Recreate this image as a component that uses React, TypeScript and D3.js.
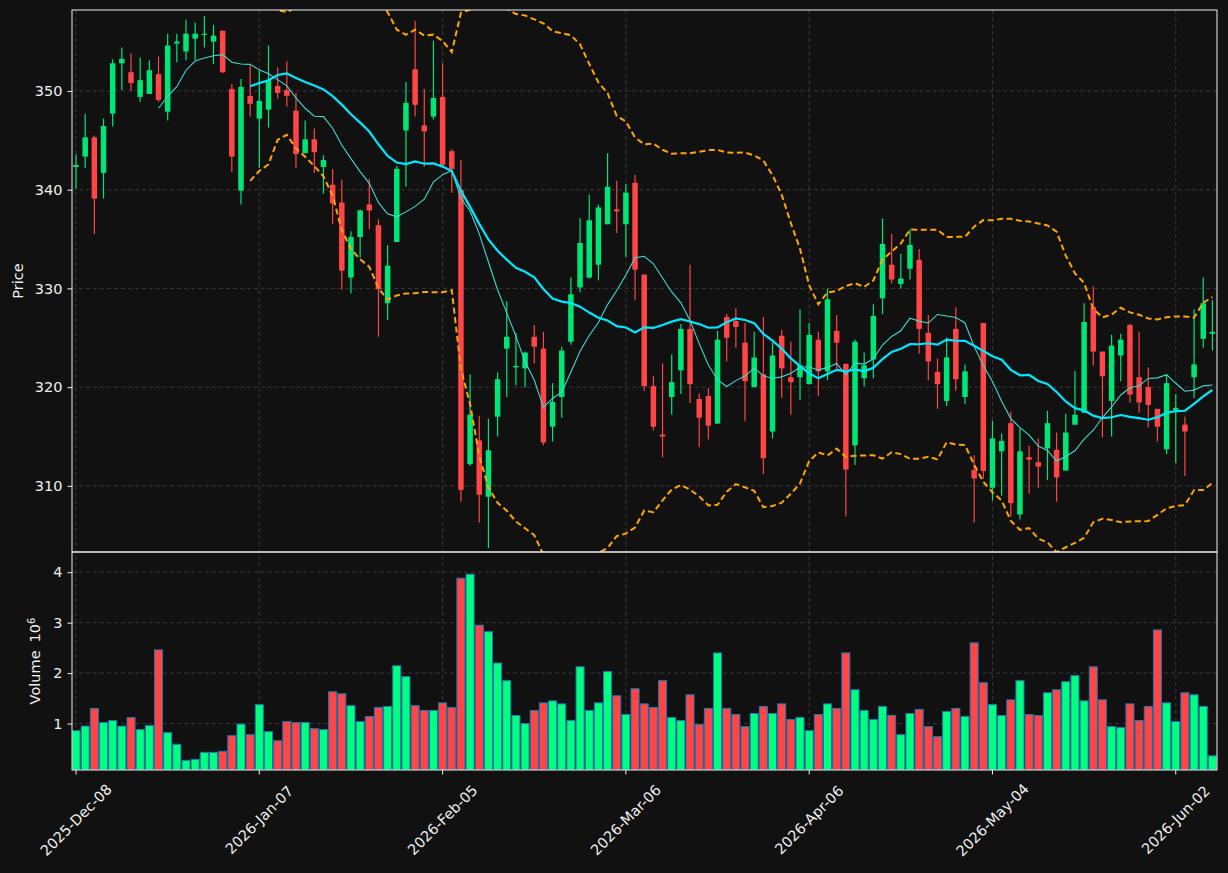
import { useRef, useEffect } from 'react';
import * as d3 from 'd3';

// daily OHLC (index = trading day)
const opens = [
  342.3, 343.35, 345.3, 341.7, 347.7, 352.8, 351.9, 349.4, 349.7, 351.7,
  347.9, 354.8, 354.0, 355.3, 355.7, 355.0, 356.1, 350.2, 339.9, 349.5,
  347.2, 348.1, 350.5, 350.1, 348.0, 343.7, 345.1, 342.3, 340.5, 338.7,
  331.1, 335.2, 338.5, 336.4, 328.5, 334.7, 346.0, 352.2, 346.5, 347.4,
  349.4, 343.9, 340.0, 312.2, 314.6, 308.9, 317.0, 323.9, 322.0, 321.9,
  325.1, 323.9, 316.0, 319.0, 324.6, 330.1, 331.1, 332.4, 336.5, 338.0,
  336.5, 340.7, 331.4, 320.1, 315.2, 319.0, 321.7, 325.9, 318.8, 319.1,
  316.3, 327.1, 326.7, 324.5, 320.0, 321.3, 315.5, 325.2, 321.0, 321.0,
  320.3, 324.8, 321.6, 325.7, 322.35, 314.1, 320.9, 322.8, 329.0, 332.4,
  330.45, 332.0, 332.9, 325.5, 321.55, 318.6, 325.9, 319.0, 311.6, 326.5,
  309.8, 313.5, 316.35, 307.1, 312.9, 312.4, 313.8, 313.65, 311.55, 316.2,
  317.4, 328.1, 323.6, 318.6, 323.2, 326.3, 321.0, 320.0, 317.8, 313.7,
  317.7, 316.2, 321.0, 324.9, 325.4,
];
const highs = [
  343.6, 347.7, 345.5, 347.2, 353.2, 354.4, 353.8, 353.4, 353.1, 353.5,
  355.8, 355.8, 357.2, 356.9, 357.6, 356.7, 356.1, 350.7, 351.2, 352.6,
  352.1, 354.6, 352.4, 353.0, 349.8, 347.0, 346.2, 343.5, 342.1, 341.0,
  335.8, 338.0, 341.1, 337.0, 334.4, 342.4, 350.9, 357.1, 350.2, 355.1,
  352.8, 344.1, 343.0, 321.3, 317.1, 316.8, 321.5, 328.7, 325.5, 323.6,
  326.3, 325.6, 320.4, 324.1, 331.1, 337.1, 339.5, 338.5, 343.7, 340.9,
  340.6, 341.5, 331.4, 321.1, 322.4, 323.3, 326.4, 332.4, 319.35, 319.9,
  325.7, 327.4, 328.0, 326.5, 325.6, 327.1, 324.5, 325.8, 324.6, 327.9,
  326.5, 325.6, 330.0, 327.3, 322.4, 324.8, 323.5, 328.4, 337.1, 335.5,
  333.5, 336.0, 334.0, 327.3, 322.9, 325.0, 328.1, 322.3, 313.1, 326.5,
  316.6, 315.3, 317.5, 315.8, 314.05, 314.8, 317.6, 315.4, 317.3, 321.6,
  328.5, 330.2, 323.6, 325.3, 325.4, 326.4, 325.6, 322.0, 317.8, 321.3,
  319.3, 317.0, 327.9, 331.1, 328.8,
];
const lows = [
  340.1, 342.2, 335.5, 339.1, 346.4, 350.1, 350.0, 348.9, 349.7, 348.9,
  347.0, 352.9, 353.1, 353.1, 354.4, 352.7, 351.8, 341.8, 338.5, 347.4,
  342.2, 346.3, 349.2, 348.4, 342.2, 343.7, 341.7, 339.6, 336.5, 329.9,
  329.5, 333.1, 336.0, 325.1, 326.8, 334.7, 340.3, 347.4, 342.3, 347.1,
  342.3, 339.7, 308.4, 312.0, 306.3, 303.7, 315.0, 319.0, 320.2, 320.0,
  322.4, 314.1, 314.5, 316.9, 324.3, 329.6, 331.0, 330.8, 336.5, 335.6,
  333.2, 328.8, 319.6, 315.6, 312.9, 317.2, 319.3, 318.4, 313.9, 314.7,
  316.3, 322.6, 324.0, 316.55, 320.0, 311.2, 314.8, 318.9, 317.2, 318.7,
  320.3, 319.1, 320.7, 321.6, 306.9, 312.1, 320.1, 320.9, 327.4, 330.5,
  330.0, 330.9, 323.4, 320.7, 317.8, 318.1, 319.6, 318.3, 306.3, 310.7,
  308.5, 309.0, 306.9, 306.6, 309.2, 309.8, 310.6, 308.4, 311.55, 316.2,
  317.4, 322.2, 314.9, 315.0, 320.6, 318.45, 317.4, 315.9, 314.5, 313.2,
  312.3, 311.0, 318.9, 324.0, 323.7,
];
const closes = [
  342.5, 345.3, 339.1, 346.45, 352.8, 353.25, 350.8, 351.1, 352.1, 349.1,
  354.6, 355.0, 355.8, 355.8, 355.8, 355.6, 351.9, 343.35, 350.4, 348.7,
  349.0, 351.1, 349.8, 349.5, 343.6, 345.1, 343.8, 343.0, 338.6, 331.8,
  335.2, 337.9, 337.9, 329.9, 332.3, 342.1, 348.8, 348.6, 345.9, 349.3,
  342.5, 342.1, 309.6, 317.2, 309.1, 313.6, 320.8, 325.1, 322.15, 323.5,
  324.1, 314.4, 318.5, 323.7, 329.4, 334.6, 336.9, 338.2, 340.3, 337.8,
  339.7, 331.9, 320.1, 316.0, 315.0, 320.5, 325.9, 320.3, 316.9, 316.1,
  324.8, 325.0, 326.1, 320.6, 323.0, 312.8, 323.2, 321.9, 320.5, 322.2,
  325.3, 321.6, 328.9, 324.5, 311.65, 324.6, 322.2, 327.2, 334.5, 330.9,
  331.0, 334.4, 325.9, 322.6, 320.3, 323.0, 320.8, 321.6, 310.75, 311.5,
  314.8, 314.55, 308.25, 313.5, 312.65, 311.95, 316.35, 310.85, 315.4, 317.2,
  326.6, 323.6, 321.1, 324.2, 324.8, 319.25, 318.45, 318.2, 316.0, 320.4,
  317.9, 315.5, 322.3, 328.5, 325.6,
];
// volume in millions
const volumes = [
  0.86, 0.95, 1.30, 1.02, 1.06, 0.95, 1.12, 0.88, 0.96, 2.46,
  0.82, 0.59, 0.27, 0.29, 0.43, 0.43, 0.45, 0.76, 0.99, 0.78,
  1.375, 0.84, 0.66, 1.04, 1.02, 1.02, 0.90, 0.88, 1.63, 1.59,
  1.355, 1.04, 1.14, 1.32, 1.34, 2.145, 1.93, 1.355, 1.26, 1.26,
  1.41, 1.32, 3.88, 3.96, 2.95, 2.82, 2.20, 1.85, 1.16, 1.0,
  1.26, 1.41, 1.45, 1.39, 1.06, 2.125, 1.26, 1.41, 2.03, 1.55,
  1.18, 1.69, 1.39, 1.32, 1.85, 1.12, 1.06, 1.57, 0.98, 1.30,
  2.40, 1.30, 1.18, 0.94, 1.20, 1.34, 1.20, 1.39, 1.08, 1.12,
  0.86, 1.18, 1.39, 1.30, 2.40, 1.67, 1.26, 1.08, 1.34, 1.16,
  0.78, 1.20, 1.28, 0.94, 0.74, 1.24, 1.30, 1.14, 2.60, 1.81,
  1.375, 1.16, 1.47, 1.85, 1.18, 1.16, 1.61, 1.67, 1.83, 1.95,
  1.45, 2.125, 1.47, 0.94, 0.92, 1.39, 1.06, 1.34, 2.855, 1.41,
  1.04, 1.61, 1.57, 1.34, 0.36,
];
const tickIdx = [0, 20, 40, 60, 80, 100, 120];
const tickLabels = ['2025-Dec-08', '2026-Jan-07', '2026-Feb-05', '2026-Mar-06', '2026-Apr-06', '2026-May-04', '2026-Jun-02'];
const priceTicks = [310, 320, 330, 340, 350];
const volTicks = [1, 2, 3, 4];

const WIDTH = 1228;
const HEIGHT = 873;
const LEFT = 72;
const RIGHT = 1217;
const TOP = 10;
const MID = 552;
const BOTTOM = 770;

const UP = '#00e676';
const DOWN = '#ff4545';
const VOL_UP = '#00ff7f';
const TEXT = '#f0f0f0';
const GRID = '#3a3a3a';
const FS = '14.5px';

function sma(v: number[], n: number) {
  return v.map((_, i) => (i < n - 1 ? null : d3.mean(v.slice(i - n + 1, i + 1))!));
}

function bollinger(v: number[], n: number, k: number) {
  return v.map((_, i) => {
    if (i < n - 1) return null;
    const w = v.slice(i - n + 1, i + 1);
    const m = d3.mean(w)!;
    const sd = Math.sqrt(d3.mean(w, (d) => (d - m) ** 2)!);
    return { up: m + k * sd, lo: m - k * sd };
  });
}

export default function App() {
  const svgRef = useRef<SVGSVGElement>(null);

  useEffect(() => {
    if (!svgRef.current) return;
    const svg = d3.select(svgRef.current);
    svg.selectAll('*').remove();

    const n = closes.length;
    const x = d3.scaleLinear().domain([-0.44, n - 0.5]).range([LEFT, RIGHT]);
    const y = d3.scaleLinear().domain([303.3, 358.2]).range([MID, TOP]);
    const yv = d3.scaleLinear().domain([0.08, 4.4]).range([BOTTOM, MID]);
    const step = x(1) - x(0);
    const idx = d3.range(n);
    const isUp = (i: number) => closes[i] >= opens[i];

    svg.append('rect').attr('width', WIDTH).attr('height', HEIGHT).attr('fill', '#111111');

    const defs = svg.append('defs');
    defs.append('clipPath').attr('id', 'pclip')
      .append('rect').attr('x', LEFT).attr('y', TOP).attr('width', RIGHT - LEFT).attr('height', MID - TOP);
    defs.append('clipPath').attr('id', 'vclip')
      .append('rect').attr('x', LEFT).attr('y', MID).attr('width', RIGHT - LEFT).attr('height', BOTTOM - MID);

    // Grid
    const grid = svg.append('g').attr('stroke', GRID).attr('stroke-width', 0.9).attr('stroke-dasharray', '4,3');
    grid.selectAll('line.vx').data(tickIdx).join('line')
      .attr('x1', (d) => x(d)).attr('x2', (d) => x(d)).attr('y1', TOP).attr('y2', BOTTOM);
    grid.selectAll('line.py').data(priceTicks).join('line')
      .attr('x1', LEFT).attr('x2', RIGHT).attr('y1', (d) => y(d)).attr('y2', (d) => y(d));
    grid.selectAll('line.vy').data(volTicks).join('line')
      .attr('x1', LEFT).attr('x2', RIGHT).attr('y1', (d) => yv(d)).attr('y2', (d) => yv(d));

    // Candles
    const pg = svg.append('g').attr('clip-path', 'url(#pclip)');
    pg.selectAll('line.wick').data(idx).join('line')
      .attr('x1', (i) => x(i)).attr('x2', (i) => x(i))
      .attr('y1', (i) => y(highs[i])).attr('y2', (i) => y(lows[i]))
      .attr('stroke', (i) => (isUp(i) ? UP : DOWN)).attr('stroke-width', 1.2);
    const bw = step * 0.6;
    pg.selectAll('rect.body').data(idx).join('rect')
      .attr('x', (i) => x(i) - bw / 2).attr('width', bw)
      .attr('y', (i) => y(Math.max(opens[i], closes[i])))
      .attr('height', (i) => Math.max(1.2, Math.abs(y(opens[i]) - y(closes[i]))))
      .attr('fill', (i) => (isUp(i) ? UP : DOWN));

    // Moving averages and Bollinger bands
    const ma10 = sma(closes, 10);
    const ma20 = sma(closes, 20);
    const bb = bollinger(closes, 20, 2);
    const line = d3.line<number | null>()
      .defined((d) => d !== null)
      .x((_, i) => x(i)).y((d) => y(d as number));
    pg.append('path').datum(ma10).attr('fill', 'none').attr('stroke', '#40d8d0')
      .attr('stroke-width', 1.1).attr('d', line);
    pg.append('path').datum(ma20).attr('fill', 'none').attr('stroke', '#00e8ff')
      .attr('stroke-width', 2.2).attr('d', line);
    for (const key of ['up', 'lo'] as const) {
      pg.append('path').datum(bb.map((b) => (b ? b[key] : null)))
        .attr('fill', 'none').attr('stroke', '#ffa500')
        .attr('stroke-width', 2).attr('stroke-dasharray', '6,3.5').attr('d', line);
    }

    // Volume
    const vw = step * 0.88;
    svg.append('g').attr('clip-path', 'url(#vclip)')
      .selectAll('rect').data(idx).join('rect')
      .attr('x', (i) => x(i) - vw / 2).attr('width', vw)
      .attr('y', (i) => yv(volumes[i])).attr('height', (i) => BOTTOM - yv(volumes[i]))
      .attr('fill', (i) => (isUp(i) ? VOL_UP : DOWN))
      .attr('stroke', '#1f77b4').attr('stroke-width', 1);

    // Frames
    const frame = svg.append('g').attr('fill', 'none').attr('stroke', '#f0f0f0').attr('stroke-width', 1);
    frame.append('rect').attr('x', LEFT).attr('y', TOP).attr('width', RIGHT - LEFT).attr('height', MID - TOP);
    frame.append('rect').attr('x', LEFT).attr('y', MID).attr('width', RIGHT - LEFT).attr('height', BOTTOM - MID);

    const font = 'DejaVu Sans, sans-serif';
    // Y axes
    const yAx = svg.append('g').attr('transform', `translate(${LEFT},0)`);
    yAx.call(d3.axisLeft(y).tickValues(priceTicks).tickSize(4.5).tickPadding(5).tickFormat(d3.format('d')));
    const vAx = svg.append('g').attr('transform', `translate(${LEFT},0)`);
    vAx.call(d3.axisLeft(yv).tickValues(volTicks).tickSize(4.5).tickPadding(5).tickFormat(d3.format('d')));
    for (const ax of [yAx, vAx]) {
      ax.select('.domain').remove();
      ax.selectAll('line').attr('stroke', TEXT);
      ax.selectAll('text').attr('fill', TEXT).attr('font-size', FS).attr('font-family', font);
    }

    // X axis (bottom of volume panel)
    const xAx = svg.append('g');
    xAx.selectAll('line').data(tickIdx).join('line')
      .attr('x1', (d) => x(d)).attr('x2', (d) => x(d)).attr('y1', BOTTOM).attr('y2', BOTTOM + 4.5)
      .attr('stroke', TEXT);
    xAx.selectAll('text').data(tickIdx).join('text')
      .attr('transform', (d) => `translate(${x(d)},${BOTTOM + 50}) rotate(-45)`)
      .attr('text-anchor', 'middle').attr('dominant-baseline', 'central')
      .attr('fill', TEXT).attr('font-size', FS).attr('font-family', font)
      .text((_, i) => tickLabels[i]);

    // Axis titles
    svg.append('text')
      .attr('transform', `translate(23,${(TOP + MID) / 2}) rotate(-90)`)
      .attr('text-anchor', 'middle').attr('fill', TEXT).attr('font-size', FS).attr('font-family', font)
      .text('Price');
    const vt = svg.append('text')
      .attr('transform', `translate(40,${(MID + BOTTOM) / 2}) rotate(-90)`)
      .attr('text-anchor', 'middle').attr('fill', TEXT).attr('font-size', FS).attr('font-family', font);
    vt.append('tspan').text('Volume');
    vt.append('tspan').attr('dx', '8').text('10');
    vt.append('tspan').attr('dy', '-0.5em').attr('font-size', '10px').text('6');
  }, []);

  return (
    <svg
      ref={svgRef}
      width={WIDTH}
      height={HEIGHT}
      style={{ position: 'absolute', left: 0, top: 0, display: 'block' }}
    />
  );
}
